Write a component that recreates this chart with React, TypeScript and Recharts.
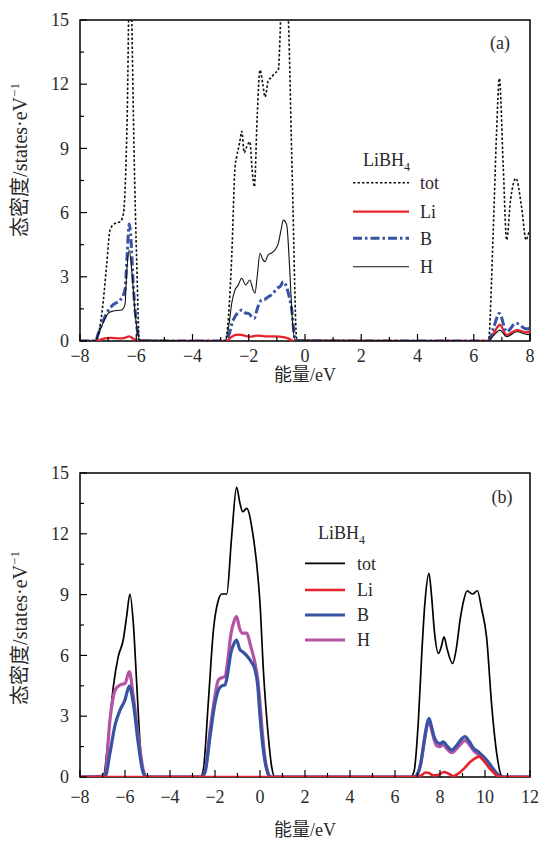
import React from 'react';
import { LineChart, Line, XAxis, YAxis, ReferenceArea, Legend } from 'recharts';

const SERIF = '"Liberation Serif", "DejaVu Serif", serif';
const CJK = '"Liberation Serif", "Noto Sans CJK SC", serif';
const TXT = '#2a2a2a';

// ---------- Panel (a) ----------
const aXTicks = [-8, -7, -6, -5, -4, -3, -2, -1, 0, 1, 2, 3, 4, 5, 6, 7, 8];
const aYTicks = [0, 1.5, 3, 4.5, 6, 7.5, 9, 10.5, 12, 13.5, 15];

const aTotE = [-8, -7.45, -7.3, -7.17, -7.05, -6.93, -6.8, -6.55, -6.45, -6.33, -6.22, -6.16, -6.08, -5.98, -5.89, -5.8, -2.95, -2.84, -2.6, -2.49, -2.43, -2.32, -2.25, -2.16, -2.07, -1.96, -1.88, -1.8, -1.7, -1.6, -1.5, -1.42, -1.3, -1.2, -1.09, -0.95, -0.85, -0.72, -0.59, -0.45, -0.29, -0.2, 6.4, 6.52, 6.69, 6.81, 6.91, 7.05, 7.17, 7.31, 7.5, 7.7, 7.86, 7.94, 8];
const aTotV = [0, 0, 0.6, 1.9, 3.6, 5.2, 5.45, 5.6, 6.0, 10, 18, 15, 9, 3.5, 0.05, 0, 0, 0, 4.1, 8.1, 8.6, 9.3, 9.8, 8.8, 9.08, 9.31, 8.0, 7.21, 10.5, 12.66, 12.0, 11.4, 12.2, 12.3, 12.5, 12.66, 15.5, 18, 15, 7.5, 0.05, 0, 0, 0, 5.03, 9.7, 12.27, 8.1, 4.72, 6.6, 7.6, 6.27, 4.72, 5.0, 5.2];

const aLiE = [-8, -7.4, -7.2, -6.9, -6.6, -6.4, -6.25, -6.1, -5.95, -2.8, -2.65, -2.5, -2.35, -2.15, -1.95, -1.7, -1.4, -1.1, -0.9, -0.6, -0.4, 6.52, 6.7, 6.93, 7.17, 7.53, 7.88, 8];
const aLiV = [0, 0, 0.1, 0.15, 0.12, 0.15, 0.22, 0.1, 0, 0, 0.15, 0.28, 0.3, 0.25, 0.2, 0.25, 0.22, 0.22, 0.2, 0.12, 0, 0, 0.35, 0.75, 0.28, 0.51, 0.4, 0.45];

const aBE = [-8, -7.45, -7.35, -7.05, -6.82, -6.58, -6.4, -6.32, -6.25, -6.2, -6.1, -5.98, -5.87, -2.84, -2.7, -2.6, -2.49, -2.35, -2.25, -2.1, -2.01, -1.9, -1.8, -1.7, -1.54, -1.42, -1.3, -1.15, -1.0, -0.88, -0.77, -0.65, -0.55, -0.47, -0.4, -0.34, 6.52, 6.7, 6.91, 7.17, 7.5, 7.88, 8];
const aBV = [0, 0, 0.35, 1.3, 1.7, 1.9, 2.4, 4.1, 5.47, 5.0, 2.5, 0.67, 0, 0, 0.3, 0.8, 1.14, 1.35, 1.45, 1.3, 1.29, 1.15, 1.06, 1.5, 1.92, 1.95, 2.07, 2.2, 2.46, 2.55, 2.77, 2.5, 2.0, 1.45, 0.5, 0, 0, 0.6, 1.29, 0.43, 0.83, 0.56, 0.62];

const aHE = [-8, -7.47, -7.29, -6.99, -6.82, -6.52, -6.4, -6.34, -6.25, -6.16, -6.04, -5.89, -2.84, -2.7, -2.6, -2.49, -2.38, -2.25, -2.11, -1.96, -1.85, -1.78, -1.7, -1.6, -1.5, -1.42, -1.3, -1.2, -1.07, -0.95, -0.85, -0.77, -0.65, -0.55, -0.45, -0.36, 6.52, 6.7, 6.93, 7.17, 7.53, 7.94, 8];
const aHV = [0, 0, 0.5, 1.3, 1.4, 1.45, 1.7, 3.2, 4.25, 3.3, 1.3, 0.05, 0, 0.8, 1.8, 2.38, 2.6, 2.93, 2.62, 2.85, 2.4, 2.23, 3.0, 4.1, 3.8, 3.71, 4.05, 4.1, 4.25, 4.56, 5.2, 5.65, 5.42, 3.5, 1.0, 0.05, 0, 0.25, 0.51, 0.2, 0.43, 0.3, 0.35];

// ---------- Panel (b) ----------
const bXTicks = [-8, -7, -6, -5, -4, -3, -2, -1, 0, 1, 2, 3, 4, 5, 6, 7, 8, 9, 10, 11, 12];
const bYTicks = [0, 1.5, 3, 4.5, 6, 7.5, 9, 10.5, 12, 13.5, 15];

const bTotE = [-8, -7.1, -6.96, -6.74, -6.52, -6.3, -6.08, -5.93, -5.78, -5.63, -5.48, -5.33, -5.19, -5.04, -2.65, -2.52, -2.3, -2.07, -1.85, -1.7, -1.48, -1.26, -1.04, -0.89, -0.77, -0.59, -0.3, -0.15, 0, 0.15, 0.37, 0.52, 0.67, 6.7, 6.85, 7.04, 7.19, 7.33, 7.51, 7.62, 7.75, 7.93, 8.05, 8.18, 8.32, 8.56, 8.72, 8.9, 9.05, 9.21, 9.33, 9.45, 9.66, 9.85, 10.07, 10.3, 10.52, 10.74, 10.9, 12];
const bTotV = [0, 0, 0.05, 2.0, 4.45, 5.94, 6.76, 7.9, 9.03, 7.58, 4.62, 1.66, 0.2, 0, 0, 0.35, 3.64, 7.25, 8.73, 9.03, 9.03, 11.86, 14.29, 13.5, 13.09, 13.25, 11.86, 10.54, 8.57, 5.28, 2.0, 0.5, 0, 0, 0.3, 2.8, 6.1, 8.6, 10.05, 9.0, 7.2, 6.1, 6.4, 6.92, 6.3, 5.6, 6.3, 7.8, 8.7, 9.19, 9.1, 9.03, 9.19, 8.3, 6.9, 3.5, 1.17, 0.05, 0, 0];

const bLiE = [-8, 7.0, 7.2, 7.35, 7.5, 7.7, 7.9, 8.18, 8.4, 8.6, 8.85, 9.1, 9.35, 9.6, 9.75, 9.95, 10.15, 10.35, 10.55, 10.7, 12];
const bLiV = [0, 0, 0.1, 0.22, 0.2, 0.08, 0.1, 0.25, 0.15, 0.05, 0.2, 0.45, 0.75, 0.95, 1.0, 0.8, 0.5, 0.25, 0.05, 0, 0];

const bBHE = [-8, -6.89, -6.67, -6.44, -6.22, -6.0, -5.81, -5.63, -5.41, -5.19, -5.04, -2.6, -2.44, -2.22, -2.0, -1.85, -1.7, -1.56, -1.45, -1.3, -1.15, -1.04, -0.9, -0.77, -0.6, -0.4, -0.22, -0.1, 0, 0.12, 0.25, 0.35, 0.44, 6.85, 7.0, 7.15, 7.3, 7.42, 7.51, 7.62, 7.75, 7.85, 8.0, 8.15, 8.3, 8.52, 8.7, 8.9, 9.11, 9.3, 9.5, 9.7, 9.93, 10.1, 10.3, 10.5, 10.74, 12];
const bBV = [0, 0, 1.17, 2.57, 3.3, 3.8, 4.49, 3.64, 1.66, 0.2, 0, 0, 0.26, 2.0, 3.64, 4.29, 4.5, 4.54, 5.0, 6.1, 6.6, 6.76, 6.3, 6.18, 6.0, 5.7, 5.28, 4.5, 3.0, 1.6, 0.6, 0.2, 0, 0, 0.15, 0.7, 1.8, 2.6, 2.9, 2.5, 1.95, 1.74, 1.65, 1.74, 1.55, 1.33, 1.5, 1.8, 1.99, 1.75, 1.4, 1.25, 1.0, 0.8, 0.5, 0.2, 0, 0];
const bHV = [0, 0.05, 2.8, 4.29, 4.54, 4.62, 5.2, 3.96, 2.0, 0.35, 0, 0, 0.3, 2.3, 4.0, 4.79, 4.9, 4.95, 5.6, 7.0, 7.7, 7.91, 7.3, 7.09, 7.1, 6.4, 5.6, 4.8, 3.64, 2.0, 0.7, 0.2, 0, 0, 0.15, 0.7, 1.75, 2.5, 2.8, 2.35, 1.8, 1.55, 1.5, 1.6, 1.4, 1.2, 1.35, 1.6, 1.8, 1.6, 1.3, 1.1, 0.85, 0.65, 0.4, 0.15, 0, 0];

const seriesNames = ['tot', 'Li', 'B', 'H'];

const pts = (xs: number[], ys: number[]) => xs.map((x, i) => ({ x, y: ys[i] }));

type Style = { stroke: string; width: number; dash?: string };
const aStyles: Style[] = [
  { stroke: '#111', width: 1.6, dash: '2.5 2' },
  { stroke: '#e8232a', width: 2.3 },
  { stroke: '#3853a4', width: 3, dash: '9 3 2.5 3' },
  { stroke: '#111', width: 1.1 },
];
const bStyles: Style[] = [
  { stroke: '#000', width: 1.7 },
  { stroke: '#e8232a', width: 2.6 },
  { stroke: '#3853a4', width: 3.2 },
  { stroke: '#b653a6', width: 3.2 },
];

const fmt = (v: number) => (v < 0 ? '\u2212' + Math.abs(v) : String(v));

const makeYTick = () => (p: any) => {
  const { x, y, payload } = p;
  const v = payload.value;
  const major = Math.abs(v / 3 - Math.round(v / 3)) < 1e-6;
  return (
    <g>
      <line x1={x} x2={x + (major ? 7 : 4)} y1={y} y2={y} stroke="#000" strokeWidth={1.2} />
      {major && (
        <text x={x - 11} y={y} dy="0.34em" textAnchor="end" fontFamily={SERIF} fontSize={18} fill={TXT}>
          {v}
        </text>
      )}
    </g>
  );
};

const makeXTick = (labelDy: number) => (p: any) => {
  const { x, y, payload } = p;
  const v = payload.value;
  const major = v % 2 === 0;
  return (
    <g>
      <line x1={x} x2={x} y1={y} y2={y - (major ? 7 : 4)} stroke="#000" strokeWidth={1.2} />
      {major && (
        <text x={x} y={y + labelDy} textAnchor="middle" fontFamily={SERIF} fontSize={18} fill={TXT}>
          {fmt(v)}
        </text>
      )}
    </g>
  );
};

type OverlayProps = {
  w: number;
  h: number;
  styles: Style[];
  yLabel: [number, number];
  xLabel: [number, number];
  tag: string;
  tagPos: [number, number];
  titlePos: [number, number];
  rows: number[];
  lineX: [number, number];
  textX: number;
};

const Overlay = (o: OverlayProps) => (
  <svg width={o.w} height={o.h} style={{ position: 'absolute', left: 0, top: 0, pointerEvents: 'none' }}>
    <text
      transform={`translate(${o.yLabel[0]},${o.yLabel[1]}) rotate(-90)`}
      textAnchor="middle"
      dy="0.35em"
      fontFamily={CJK}
      fontSize={20}
      fill={TXT}
    >
      态密度/states·eV
      <tspan dy={-8} fontSize={13}>
        {'\u22121'}
      </tspan>
    </text>
    <text x={o.xLabel[0]} y={o.xLabel[1]} dy="0.35em" textAnchor="middle" fontFamily={CJK} fontSize={18} fill={TXT}>
      能量/eV
    </text>
    <text x={o.tagPos[0]} y={o.tagPos[1]} dy="0.35em" textAnchor="middle" fontFamily={SERIF} fontSize={18} fill={TXT}>
      {o.tag}
    </text>
    <text x={o.titlePos[0]} y={o.titlePos[1]} dy="0.35em" fontFamily={SERIF} fontSize={18} fill={TXT}>
      LiBH
      <tspan dy={5} fontSize={12}>
        4
      </tspan>
    </text>
    {seriesNames.map((n, i) => (
      <g key={n}>
        <line
          x1={o.lineX[0]}
          x2={o.lineX[1]}
          y1={o.rows[i]}
          y2={o.rows[i]}
          stroke={o.styles[i].stroke}
          strokeWidth={o.styles[i].width}
          strokeDasharray={o.styles[i].dash}
        />
        <text x={o.textX} y={o.rows[i]} dy="0.35em" fontFamily={SERIF} fontSize={18} fill={TXT}>
          {n}
        </text>
      </g>
    ))}
  </svg>
);

export default function App() {
  const aData = [pts(aTotE, aTotV), pts(aLiE, aLiV), pts(aBE, aBV), pts(aHE, aHV)];
  const bData = [pts(bTotE, bTotV), pts(bLiE, bLiV), pts(bBHE, bBV), pts(bBHE, bHV)];
  const aOrder = [1, 2, 3, 0];
  const bOrder = [0, 3, 2, 1];
  const TB = 440;
  return (
    <div style={{ position: 'absolute', left: 0, top: 0, width: 539, height: 842, background: '#fff' }}>
      <div style={{ position: 'absolute', left: 0, top: 0 }}>
        <LineChart width={539} height={400} margin={{ top: 20, right: 9, bottom: 19, left: 30 }}>
          <XAxis
            dataKey="x"
            type="number"
            domain={[-8, 8]}
            ticks={aXTicks}
            interval={0}
            allowDataOverflow
            height={40}
            axisLine={false}
            tickLine={false}
            tickSize={0}
            tickMargin={0}
            tick={makeXTick(21)}
          />
          <YAxis
            type="number"
            domain={[0, 15]}
            ticks={aYTicks}
            interval={0}
            allowDataOverflow
            width={50}
            axisLine={false}
            tickLine={false}
            tickSize={0}
            tickMargin={0}
            tick={makeYTick()}
          />
          {aOrder.map((i) => (
            <Line
              key={seriesNames[i]}
              data={aData[i]}
              dataKey="y"
              name={seriesNames[i]}
              type="monotone"
              stroke={aStyles[i].stroke}
              strokeWidth={aStyles[i].width}
              strokeDasharray={aStyles[i].dash}
              dot={false}
              activeDot={false}
              isAnimationActive={false}
            />
          ))}
          <ReferenceArea x1={-8} x2={8} y1={0} y2={15} stroke="#000" strokeWidth={1.5} fill="none" fillOpacity={0} />
          <Legend
            layout="vertical"
            align="center"
            verticalAlign="middle"
            wrapperStyle={{ left: 0, top: 0, width: 539, height: 400 }}
            content={() => (
              <Overlay
                w={539}
                h={400}
                styles={aStyles}
                yLabel={[20, 160]}
                xLabel={[305, 375]}
                tag="(a)"
                tagPos={[500, 43]}
                titlePos={[363, 160]}
                rows={[182.7, 211.7, 238.3, 266.7]}
                lineX={[353, 409]}
                textX={420}
              />
            )}
          />
        </LineChart>
      </div>
      <div style={{ position: 'absolute', left: 0, top: TB }}>
        <LineChart width={539} height={402} margin={{ top: 33, right: 9, bottom: 25, left: 30 }}>
          <XAxis
            dataKey="x"
            type="number"
            domain={[-8, 12]}
            ticks={bXTicks}
            interval={0}
            allowDataOverflow
            height={40}
            axisLine={false}
            tickLine={false}
            tickSize={0}
            tickMargin={0}
            tick={makeXTick(26)}
          />
          <YAxis
            type="number"
            domain={[0, 15]}
            ticks={bYTicks}
            interval={0}
            allowDataOverflow
            width={50}
            axisLine={false}
            tickLine={false}
            tickSize={0}
            tickMargin={0}
            tick={makeYTick()}
          />
          {bOrder.map((i) => (
            <Line
              key={seriesNames[i]}
              data={bData[i]}
              dataKey="y"
              name={seriesNames[i]}
              type="monotone"
              stroke={bStyles[i].stroke}
              strokeWidth={bStyles[i].width}
              dot={false}
              activeDot={false}
              isAnimationActive={false}
            />
          ))}
          <ReferenceArea x1={-8} x2={12} y1={0} y2={15} stroke="#000" strokeWidth={1.5} fill="none" fillOpacity={0} />
          <Legend
            layout="vertical"
            align="center"
            verticalAlign="middle"
            wrapperStyle={{ left: 0, top: 0, width: 539, height: 402 }}
            content={() => (
              <Overlay
                w={539}
                h={402}
                styles={bStyles}
                yLabel={[20, 628 - TB]}
                xLabel={[305, 830 - TB]}
                tag="(b)"
                tagPos={[502, 497 - TB]}
                titlePos={[318, 533 - TB]}
                rows={[563.3 - TB, 590 - TB, 615 - TB, 640 - TB]}
                lineX={[305, 345]}
                textX={357}
              />
            )}
          />
        </LineChart>
      </div>
    </div>
  );
}
